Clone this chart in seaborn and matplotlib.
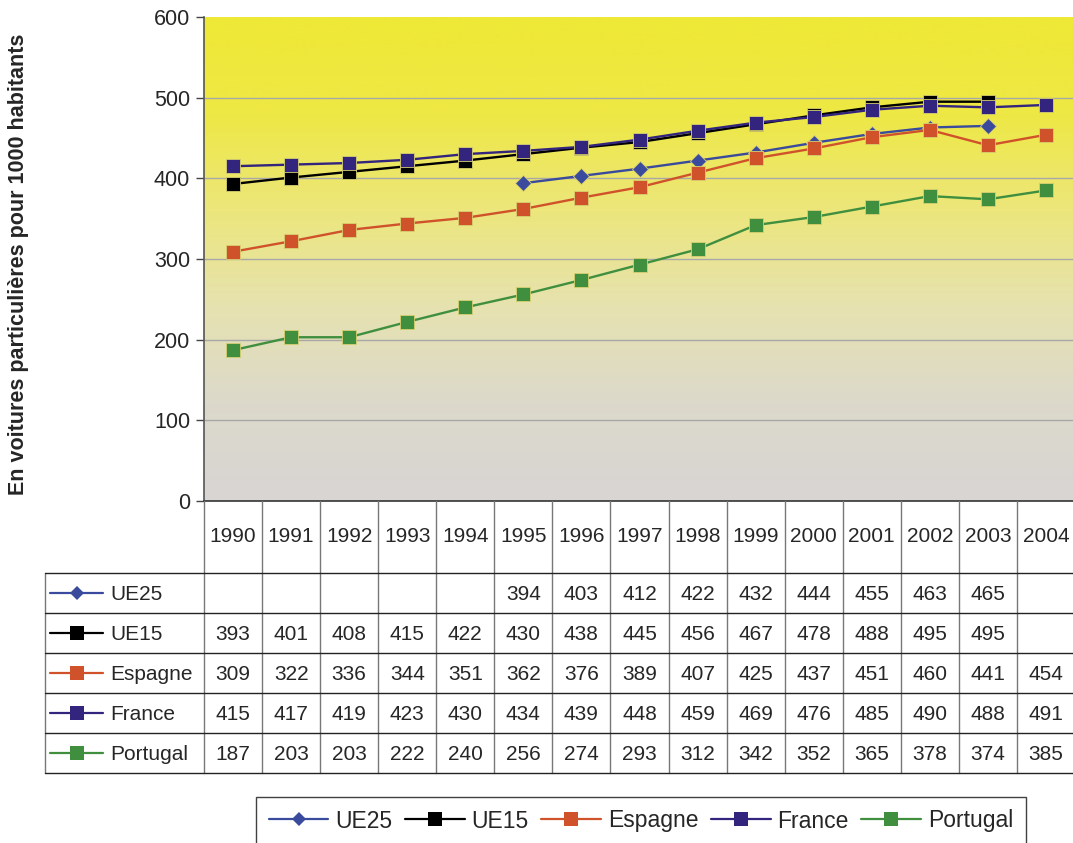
import numpy as np
import pandas as pd
import matplotlib
matplotlib.use("Agg")
import matplotlib.pyplot as plt
from matplotlib.lines import Line2D
from matplotlib.colors import LinearSegmentedColormap
import seaborn as sns

years = [1990, 1991, 1992, 1993, 1994, 1995, 1996, 1997, 1998, 1999, 2000, 2001, 2002, 2003, 2004]
series_names = ["UE25", "UE15", "Espagne", "France", "Portugal"]
ue25 = [None, None, None, None, None, 394, 403, 412, 422, 432, 444, 455, 463, 465, None]
ue15 = [393, 401, 408, 415, 422, 430, 438, 445, 456, 467, 478, 488, 495, 495, None]
espagne = [309, 322, 336, 344, 351, 362, 376, 389, 407, 425, 437, 451, 460, 441, 454]
france = [415, 417, 419, 423, 430, 434, 439, 448, 459, 469, 476, 485, 490, 488, 491]
portugal = [187, 203, 203, 222, 240, 256, 274, 293, 312, 342, 352, 365, 378, 374, 385]
y_ticks = [0, 100, 200, 300, 400, 500, 600]
y_label = "En voitures particulières pour 1000 habitants"

values = {"UE25": ue25, "UE15": ue15, "Espagne": espagne, "France": france, "Portugal": portugal}
colors = {"UE25": "#3a4a9c", "UE15": "#000000", "Espagne": "#d0522a",
          "France": "#33247e", "Portugal": "#3f8f3f"}
markers = {"UE25": "D", "UE15": "s", "Espagne": "s", "France": "s", "Portugal": "s"}
msize = {"UE25": 7.8, "UE15": 10.3, "Espagne": 10.3, "France": 10.3, "Portugal": 10.3}

rows = []
for name in series_names:
    for i, (yr, v) in enumerate(zip(years, values[name])):
        rows.append({"idx": i, "year": yr, "series": name,
                     "value": np.nan if v is None else float(v)})
df = pd.DataFrame(rows)

sns.set_theme(style="white")
plt.rcParams["font.family"] = ["Liberation Sans", "DejaVu Sans"]

W, H = 1073, 843
fig = plt.figure(figsize=(W / 100, H / 100), dpi=100)
ax_left, ax_right, ax_top, ax_bot = 204, 1075, 17, 501
ax = fig.add_axes([ax_left / W, 1 - ax_bot / H, (ax_right - ax_left) / W, (ax_bot - ax_top) / H])

# gradient background
cmap = LinearSegmentedColormap.from_list("bg", [
    (0.0, "#d8d5d4"), (0.2, "#dcd9cb"), (0.4, "#e6e2b0"),
    (0.6, "#ece67c"), (0.8, "#eee845"), (1.0, "#efe836")])
grad = np.linspace(0, 1, 256).reshape(-1, 1)
ax.imshow(grad, extent=[0, 1, 0, 1], transform=ax.transAxes, aspect="auto",
          cmap=cmap, origin="lower", zorder=-2)

for name in series_names:
    sub = df[df["series"] == name]
    sns.lineplot(data=sub, x="idx", y="value", ax=ax, color=colors[name],
                 marker=markers[name], markersize=msize[name], linewidth=1.7,
                 markeredgecolor="#d8d070", markeredgewidth=0.6, legend=False,
                 zorder=3)

ax.set_xlim(-0.5, len(years) - 0.5)
ax.set_ylim(0, 600)
ax.set_yticks(y_ticks)
ax.set_yticklabels([str(t) for t in y_ticks], fontsize=15.5)
ax.set_xticks([])
ax.set_xlabel("")
ax.set_ylabel("")
for t in y_ticks[1:-1]:
    ax.axhline(t, color="#a8a8a8", lw=1.0, zorder=1)
ax.tick_params(axis="y", length=6, width=1, color="#444444", pad=4, left=True)
for s in ["top", "right"]:
    ax.spines[s].set_visible(False)
ax.spines["left"].set_color("#555555")
ax.spines["left"].set_linewidth(1.2)
ax.spines["bottom"].set_color("#333333")
ax.spines["bottom"].set_linewidth(1.2)

fig.text(19 / W, 1 - 264 / H, y_label, rotation=90, ha="center", va="center",
         fontsize=15.5, fontweight="bold")

# table drawn in figure pixel coordinates
def fx(px):
    return px / W

def fy(py):
    return 1 - py / H

col_w = (ax_right - ax_left) / len(years)
tab_left = 45
head_bot = 573
row_h = 40
tab_bot = head_bot + row_h * len(series_names)
line_kw = dict(transform=fig.transFigure, clip_on=False)

# vertical lines
for i in range(len(years) + 1):
    xb = ax_left + i * col_w
    fig.add_artist(Line2D([fx(xb), fx(xb)], [fy(ax_bot), fy(tab_bot)],
                          color="#777777", lw=1.0, **line_kw))
fig.add_artist(Line2D([fx(tab_left), fx(tab_left)], [fy(head_bot), fy(tab_bot)],
                      color="#777777", lw=1.0, **line_kw))
# horizontal lines
for r in range(len(series_names) + 1):
    yb = head_bot + r * row_h
    fig.add_artist(Line2D([fx(tab_left), fx(W + 5)], [fy(yb), fy(yb)],
                          color="#222222", lw=1.0, **line_kw))

# header years
for i, yr in enumerate(years):
    fig.text(fx(ax_left + (i + 0.5) * col_w), fy(537), str(yr), ha="center",
             va="center", fontsize=15)

# data rows
for r, name in enumerate(series_names):
    yc = head_bot + (r + 0.5) * row_h
    fig.add_artist(Line2D([fx(50), fx(103)], [fy(yc), fy(yc)], color=colors[name],
                          lw=1.6, **line_kw))
    fig.add_artist(Line2D([fx(76.5)], [fy(yc)], color=colors[name], marker=markers[name],
                          markersize=msize[name] - 0.5, markeredgewidth=0, lw=0, **line_kw))
    fig.text(fx(110), fy(yc + 1), name, ha="left", va="center", fontsize=15)
    for i, v in enumerate(values[name]):
        if v is None:
            continue
        fig.text(fx(ax_left + (i + 0.5) * col_w), fy(yc + 1), str(v), ha="center",
                 va="center", fontsize=15)

# bottom legend
handles = [Line2D([0], [0], color=colors[n], lw=1.6, marker=markers[n],
                  markersize=msize[n] - 0.5, markeredgewidth=0) for n in series_names]
leg = fig.legend(handles, series_names, loc="center", ncol=5,
                 bbox_to_anchor=(fx(641), fy(821)), fontsize=16.5, frameon=True,
                 fancybox=False, edgecolor="#111111", handlelength=2.6,
                 handletextpad=0.3, columnspacing=0.55, borderpad=0.55)
leg.get_frame().set_linewidth(1.0)

fig.savefig("out.png", dpi=100)
